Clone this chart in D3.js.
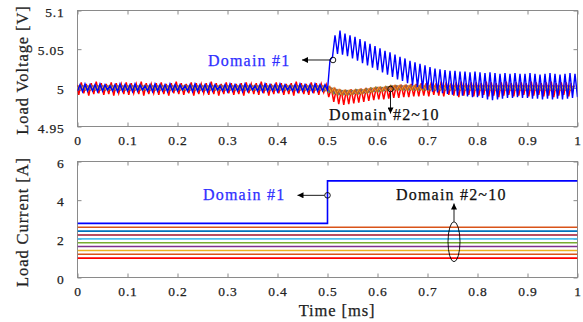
<!DOCTYPE html>
<html>
<head>
<meta charset="utf-8">
<script src="https://cdn.jsdelivr.net/npm/d3@7"></script>
<style>
  body { margin: 0; background: #fff; }
  svg { display: block; }
</style>
</head>
<body>
<svg id="chart" width="583" height="322"></svg>
<script>
// ---- axis ticks ----
const timeTicks = [0, 0.1, 0.2, 0.3, 0.4, 0.5, 0.6, 0.7, 0.8, 0.9, 1];
const voltageTicks = [4.95, 5, 5.05, 5.1];
const currentTicks = [0, 2, 4, 6];

// ---- load voltage ripple, one entry per switching cycle (period in ms) ----
const switchPeriod = 0.01;

// Domain #1: cycle maxima / minima [V]
const domain1Peaks = [
  5.004, 5.005, 5.004, 5.004, 5.005, 5.004, 5.003, 5.004, 5.005, 5.004,
  5.004, 5.005, 5.004, 5.003, 5.004, 5.005, 5.004, 5.004, 5.005, 5.004,
  5.004, 5.003, 5.004, 5.005, 5.004, 5.004, 5.005, 5.004, 5.003, 5.004,
  5.005, 5.004, 5.004, 5.005, 5.004, 5.003, 5.004, 5.005, 5.004, 5.004,
  5.005, 5.004, 5.003, 5.004, 5.005, 5.004, 5.004, 5.005, 5.004, 5.004,
  5.036, 5.068, 5.074, 5.070, 5.068, 5.066, 5.063, 5.060, 5.057, 5.054,
  5.051, 5.048, 5.046, 5.043, 5.040, 5.038, 5.035, 5.033, 5.031, 5.029,
  5.027, 5.025, 5.024, 5.023, 5.022, 5.022, 5.021, 5.021, 5.020, 5.021,
  5.020, 5.019, 5.020, 5.019, 5.018, 5.019, 5.018, 5.019, 5.018, 5.018,
  5.019, 5.018, 5.017, 5.018, 5.019, 5.018, 5.017, 5.018, 5.019, 5.018
];
const domain1Troughs = [
  4.996, 4.995, 4.996, 4.996, 4.995, 4.996, 4.997, 4.996, 4.995, 4.996,
  4.996, 4.995, 4.996, 4.997, 4.996, 4.995, 4.996, 4.996, 4.995, 4.996,
  4.996, 4.997, 4.996, 4.995, 4.996, 4.996, 4.995, 4.996, 4.997, 4.996,
  4.995, 4.996, 4.996, 4.995, 4.996, 4.997, 4.996, 4.995, 4.996, 4.996,
  4.995, 4.996, 4.997, 4.996, 4.995, 4.996, 4.996, 4.995, 4.996, 4.996,
  4.997, 5.040, 5.044, 5.043, 5.041, 5.038, 5.035, 5.032, 5.029, 5.026,
  5.023, 5.020, 5.017, 5.014, 5.011, 5.009, 5.006, 5.003, 5.001, 4.999,
  4.997, 4.995, 4.994, 4.993, 4.992, 4.991, 4.990, 4.990, 4.989, 4.988,
  4.988, 4.987, 4.985, 4.984, 4.985, 4.986, 4.987, 4.987, 4.988, 4.987,
  4.987, 4.986, 4.986, 4.985, 4.986, 4.985, 4.986, 4.985, 4.986, 4.987,
  4.988
];

// Domain #10 (lightest load, largest ripple): cycle maxima / minima [V]
const domain10Peaks = [
  5.006, 5.007, 5.005, 5.006, 5.008, 5.006, 5.005, 5.007, 5.006, 5.005,
  5.007, 5.006, 5.005, 5.008, 5.006, 5.005, 5.006, 5.007, 5.005, 5.006,
  5.008, 5.006, 5.005, 5.007, 5.006, 5.005, 5.006, 5.008, 5.006, 5.005,
  5.007, 5.006, 5.005, 5.006, 5.007, 5.005, 5.006, 5.008, 5.006, 5.005,
  5.007, 5.006, 5.005, 5.006, 5.008, 5.006, 5.005, 5.007, 5.006, 5.005,
  5.004, 5.000, 4.998, 4.997, 4.997, 4.998, 4.998, 4.999, 5.000, 5.000,
  5.001, 5.001, 5.002, 5.003, 5.003, 5.004, 5.004, 5.005, 5.005, 5.006,
  5.006, 5.007, 5.006, 5.008, 5.007, 5.006, 5.007, 5.008, 5.006, 5.007,
  5.007, 5.006, 5.008, 5.007, 5.006, 5.007, 5.008, 5.006, 5.007, 5.007,
  5.006, 5.008, 5.007, 5.006, 5.007, 5.008, 5.006, 5.007, 5.007, 5.006
];
const domain10Troughs = [
  4.992, 4.991, 4.993, 4.990, 4.992, 4.993, 4.991, 4.992, 4.990, 4.993,
  4.992, 4.991, 4.993, 4.992, 4.990, 4.992, 4.993, 4.991, 4.992, 4.990,
  4.993, 4.992, 4.991, 4.993, 4.990, 4.992, 4.993, 4.991, 4.992, 4.990,
  4.992, 4.993, 4.991, 4.992, 4.990, 4.993, 4.992, 4.991, 4.993, 4.990,
  4.992, 4.993, 4.991, 4.992, 4.990, 4.993, 4.992, 4.991, 4.993, 4.991,
  4.994, 4.988, 4.982, 4.979, 4.978, 4.979, 4.980, 4.981, 4.982, 4.983,
  4.984, 4.985, 4.985, 4.986, 4.987, 4.987, 4.988, 4.988, 4.989, 4.989,
  4.990, 4.989, 4.991, 4.990, 4.989, 4.991, 4.990, 4.988, 4.990, 4.991,
  4.989, 4.990, 4.991, 4.989, 4.990, 4.988, 4.990, 4.991, 4.989, 4.990,
  4.991, 4.989, 4.990, 4.991, 4.989, 4.990, 4.988, 4.990, 4.991, 4.989
];

// Domains #2~#9: common mean voltage per cycle [V]
const groupMean = [
  5.000, 5.000, 5.000, 5.000, 5.000, 5.000, 5.000, 5.000, 5.000, 5.000,
  5.000, 5.000, 5.000, 5.000, 5.000, 5.000, 5.000, 5.000, 5.000, 5.000,
  5.000, 5.000, 5.000, 5.000, 5.000, 5.000, 5.000, 5.000, 5.000, 5.000,
  5.000, 5.000, 5.000, 5.000, 5.000, 5.000, 5.000, 5.000, 5.000, 5.000,
  5.000, 5.000, 5.000, 5.000, 5.000, 5.000, 5.000, 5.000, 5.000, 5.000,
  4.999, 4.997, 4.995, 4.994, 4.994, 4.994, 4.995, 4.995, 4.996, 4.997,
  4.998, 4.998, 4.999, 5.000, 5.000, 5.000, 5.000, 5.000, 5.000, 5.000,
  5.000, 5.000, 5.000, 5.000, 5.000, 5.000, 5.000, 5.000, 5.000, 5.000,
  5.000, 5.000, 5.000, 5.000, 5.000, 5.000, 5.000, 5.000, 5.000, 5.000,
  5.000, 5.000, 5.000, 5.000, 5.000, 5.000, 5.000, 5.000, 5.000, 5.000
];
// Domains #2~#9: ripple half-amplitude [V] and phase (fraction of a cycle)
const groupRipple = [0.0030, 0.0022, 0.0026, 0.0020, 0.0028, 0.0018, 0.0025, 0.0030];
const groupPhase  = [0.10, 0.35, 0.60, 0.85, 0.22, 0.47, 0.72, 0.97];

// ---- load current per domain [A] ----
const domainNames    = ["#2", "#3", "#4", "#5", "#6", "#7", "#8", "#9", "#10"];
const domainCurrents = [2.6, 2.4, 2.2, 2.0, 1.8, 1.6, 1.4, 1.2, 1.0];
const domainColors   = ["#D95319", "#0072BD", "#A2142F", "#4DBEEE", "#77AC30",
                        "#7E2F8E", "#EDB120", "#D95319", "#FF0000"];
const domain1StepTimes    = [0, 0.5, 0.5, 1];
const domain1StepCurrents = [2.8, 2.8, 5, 5];

// ---- layout ----
const svg = d3.select("#chart");
const serif = "'Liberation Serif', 'Times New Roman', serif";
const left = 77.5, right = 577.5;
const vTop = 10.5, vBottom = 126.5;
const iTop = 161.5, iBottom = 277.5;
const frameColor = "#8a8a8a";
const inkColor = "#222";

const x = d3.scaleLinear().domain([0, 1]).range([left, right]);
const yV = d3.scaleLinear().domain([4.95, 5.1]).range([vBottom, vTop]);
const yI = d3.scaleLinear().domain([0, 6]).range([iBottom, iTop]);

const defs = svg.append("defs");
[["clipV", vTop, vBottom], ["clipI", iTop, iBottom]].forEach(([id, t, b]) => {
  defs.append("clipPath").attr("id", id).append("rect")
    .attr("x", left).attr("y", t).attr("width", right - left).attr("height", b - t);
});
defs.append("marker").attr("id", "head")
  .attr("viewBox", "0 0 10 10").attr("refX", 10).attr("refY", 5)
  .attr("markerWidth", 7).attr("markerHeight", 6)
  .attr("markerUnits", "userSpaceOnUse").attr("orient", "auto")
  .append("path").attr("d", "M0,0 L10,5 L0,10 Z").attr("fill", "#000");

function styleText(sel, size, spacing, color) {
  sel.attr("font-family", serif).attr("font-size", size)
    .style("letter-spacing", spacing + "px")
    .attr("fill", color).attr("stroke", color).attr("stroke-width", 0.25);
}

function panelAxes(y, yTicks, top, bottom) {
  const g = svg.append("g");
  const xb = g.append("g").attr("transform", `translate(0,${bottom})`)
    .call(d3.axisBottom(x).tickValues(timeTicks).tickFormat(d3.format("")).tickSizeInner(-4).tickSizeOuter(0).tickPadding(8.5));
  g.append("g").attr("transform", `translate(0,${top})`)
    .call(d3.axisTop(x).tickValues(timeTicks).tickFormat("").tickSizeInner(-4).tickSizeOuter(0));
  const yl = g.append("g").attr("transform", `translate(${left},0)`)
    .call(d3.axisLeft(y).tickValues(yTicks).tickFormat(d3.format("")).tickSizeInner(-4).tickSizeOuter(0).tickPadding(13));
  g.append("g").attr("transform", `translate(${right},0)`)
    .call(d3.axisRight(y).tickValues(yTicks).tickFormat("").tickSizeInner(-4).tickSizeOuter(0));
  g.selectAll(".domain").remove();
  g.selectAll(".tick line").attr("stroke", frameColor);
  styleText(xb.selectAll(".tick text").attr("dy", "0.71em"), 13.5, 0.8, inkColor);
  styleText(yl.selectAll(".tick text").attr("dy", "0.42em"), 13.5, 0.8, inkColor);
  g.append("rect").attr("x", left).attr("y", top)
    .attr("width", right - left).attr("height", bottom - top)
    .attr("fill", "none").attr("stroke", frameColor).attr("stroke-width", 1);
}
panelAxes(yV, voltageTicks, vTop, vBottom);
panelAxes(yI, currentTicks, iTop, iBottom);

// ---- voltage panel ----
function rippleVertices(peaks, troughs, phase) {
  const pts = [];
  for (let k = 0; k < peaks.length; k++) {
    pts.push([(k + phase) * switchPeriod, troughs[k]]);
    pts.push([(k + phase + 0.5) * switchPeriod, peaks[k]]);
  }
  if (troughs.length > peaks.length) pts.push([(peaks.length + phase) * switchPeriod, troughs[peaks.length]]);
  return pts;
}
const lineV = d3.line().x(d => x(d[0])).y(d => yV(d[1]));
const gV = svg.append("g").attr("clip-path", "url(#clipV)");

// domain #10 underneath
gV.append("path").attr("d", lineV(rippleVertices(domain10Peaks, domain10Troughs, -0.75)))
  .attr("fill", "none").attr("stroke", domainColors[8]).attr("stroke-width", 1.5);
// domains #2~#9
groupRipple.forEach((amp, i) => {
  const peaks = groupMean.map(m => m + amp);
  const troughs = groupMean.map(m => m - amp);
  const pts = rippleVertices(peaks, troughs, groupPhase[i] - 1);
  gV.append("path").attr("d", lineV(pts))
    .attr("fill", "none").attr("stroke", domainColors[i]).attr("stroke-width", 1.1);
});
// domain #1 on top
gV.append("path").attr("d", lineV(rippleVertices(domain1Peaks, domain1Troughs, 0)))
  .attr("fill", "none").attr("stroke", "#0000FF").attr("stroke-width", 1.4);

// ---- current panel ----
const lineI = d3.line().x(d => x(d[0])).y(d => yI(d[1]));
const gI = svg.append("g").attr("clip-path", "url(#clipI)");
domainCurrents.forEach((c, i) => {
  gI.append("path").attr("d", lineI([[0, c], [1, c]]))
    .attr("fill", "none").attr("stroke", domainColors[i]).attr("stroke-width", 1.6);
});
gI.append("path").attr("d", lineI(domain1StepTimes.map((t, i) => [t, domain1StepCurrents[i]])))
  .attr("fill", "none").attr("stroke", "#0000FF").attr("stroke-width", 1.6);

// ---- axis titles ----
styleText(svg.append("text").attr("text-anchor", "middle")
  .attr("transform", "translate(28,70) rotate(-90)").text("Load Voltage [V]"), 16.5, 0.9, inkColor);
styleText(svg.append("text").attr("text-anchor", "middle")
  .attr("transform", "translate(28,222) rotate(-90)").text("Load Current [A]"), 16.5, 0.9, inkColor);
styleText(svg.append("text").attr("text-anchor", "middle")
  .attr("x", 337).attr("y", 316).text("Time [ms]"), 16.5, 0.9, inkColor);

// ---- annotations ----
const noteBlue = "#2f2fff";
function marker(cx, cy) {
  svg.append("circle").attr("cx", cx).attr("cy", cy).attr("r", 2.8)
    .attr("fill", "none").attr("stroke", "#000").attr("stroke-width", 0.9);
}
function arrow(x1, y1, x2, y2) {
  svg.append("line").attr("x1", x1).attr("y1", y1).attr("x2", x2).attr("y2", y2)
    .attr("stroke", "#000").attr("stroke-width", 0.9).attr("marker-end", "url(#head)");
}
function note(px, py, label, color) {
  styleText(svg.append("text").attr("x", px).attr("y", py).text(label), 16, 1.2, color);
}

// voltage panel: domain #1
marker(x(0.511), yV(5.036));
arrow(x(0.511) - 3, yV(5.036), x(0.511) - 31, yV(5.036));
note(208, 65.5, "Domain #1", noteBlue);

// voltage panel: domains #2~10
marker(x(0.626), yV(4.9985));
arrow(x(0.626), yV(4.9985) + 3, x(0.626), 113.5);
note(329, 120, "Domain #2~10", "#111");

// current panel: domain #1
marker(x(0.5), yI(4.25));
arrow(x(0.5) - 3, yI(4.25), x(0.5) - 30, yI(4.25));
note(203, 200, "Domain #1", noteBlue);

// current panel: domains #2~10
svg.append("ellipse").attr("cx", x(0.753)).attr("cy", yI(1.85)).attr("rx", 6).attr("ry", 20)
  .attr("fill", "none").attr("stroke", "#000").attr("stroke-width", 0.9);
arrow(x(0.753), yI(1.85) - 20, x(0.753), 203.5);
note(396, 200, "Domain #2~10", "#111");
</script>
</body>
</html>
